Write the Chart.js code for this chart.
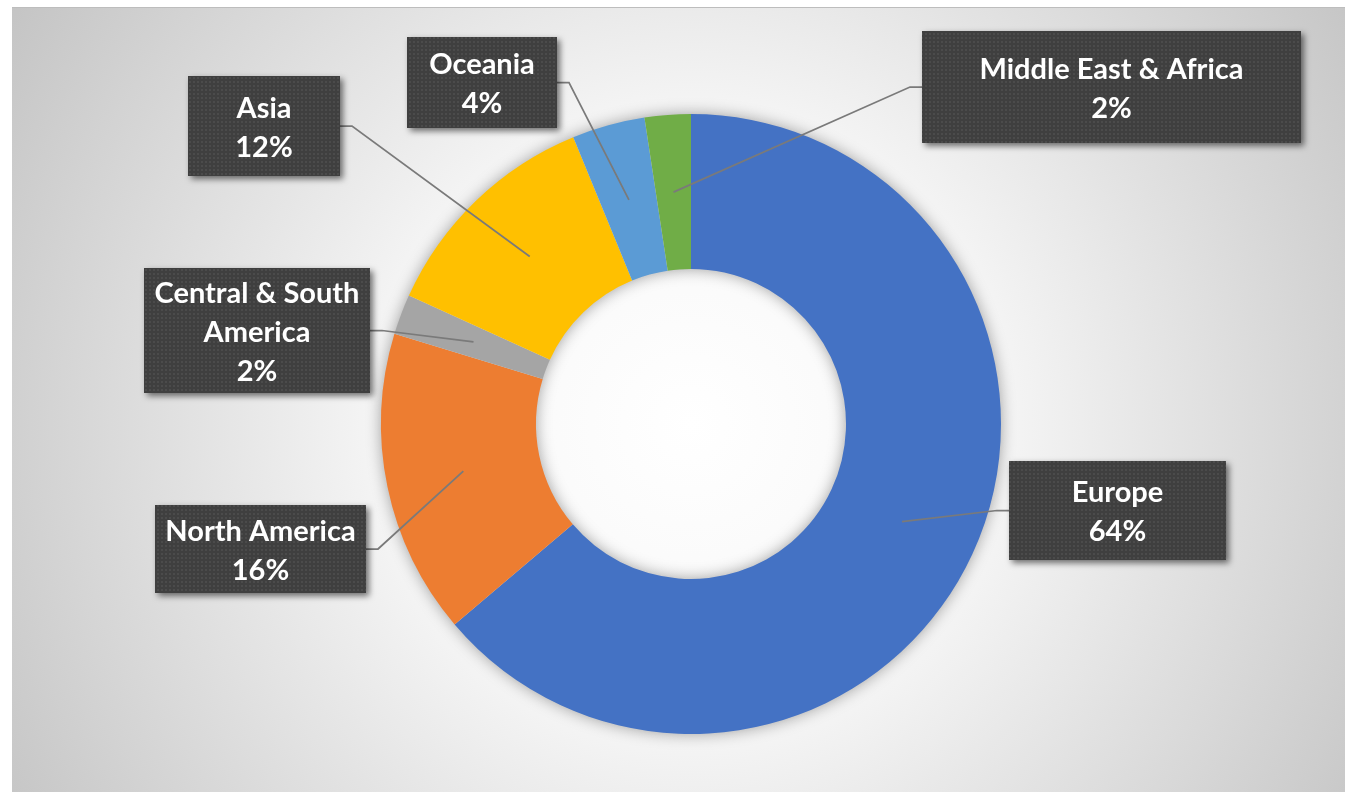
<!DOCTYPE html>
<html>
<head>
<meta charset="utf-8">
<script src="https://cdn.jsdelivr.net/npm/chart.js@4.4.1/dist/chart.umd.min.js"></script>
<style>
    html, body { margin: 0; padding: 0; background: #fff; }
    #frame {
        position: absolute; left: 12px; top: 7px; width: 1333px; height: 785px;
        border-top: 1px solid #bdbdbd;
        background: radial-gradient(circle at 679px 416px, #ffffff 0px, #f6f6f6 300px, #c4c4c4 800px);
    }
    #regionChart { position: absolute; left: 0; top: 0; }
</style>
</head>
<body>
<div id="frame"></div>
<canvas id="regionChart" width="1345" height="792"></canvas>
<script>
// regions clockwise from 12 o'clock
const regions = ['Europe', 'North America', ['Central & South', 'America'], 'Asia', 'Oceania', 'Middle East & Africa'];
const shares = [63.8, 15.9, 2.1, 12.0, 3.8, 2.4];
const sliceColors = ['#4472C4', '#ED7D31', '#A5A5A5', '#FFC000', '#5B9BD5', '#70AD47'];

// label boxes: [left, top, width, height]
const labelBoxes = [
    [1009, 461, 217, 99],
    [155, 505, 211, 88],
    [144, 268, 226, 125],
    [188, 76, 152, 100],
    [407, 37, 150, 91],
    [922, 31, 379, 112]
];

function makePattern(ctx) {
    const tile = document.createElement('canvas');
    tile.width = 4; tile.height = 4;
    const t = tile.getContext('2d');
    t.fillStyle = '#3f3f3f';
    t.fillRect(0, 0, 4, 4);
    t.fillStyle = '#4b4b4b';
    t.fillRect(1, 1, 2, 2);
    return ctx.createPattern(tile, 'repeat');
}

// soft shadow under the ring
const ringShadow = {
    id: 'ringShadow',
    beforeDatasetsDraw(chart) {
        const arc = chart.getDatasetMeta(0).data[0];
        if (!arc) return;
        const { x, y, innerRadius, outerRadius } = arc.getProps(['x', 'y', 'innerRadius', 'outerRadius'], true);
        const ctx = chart.ctx;
        ctx.save();
        ctx.shadowColor = 'rgba(0,0,0,0.4)';
        ctx.shadowBlur = 16;
        ctx.fillStyle = '#e0e0e0';
        ctx.beginPath();
        ctx.arc(x, y, outerRadius - 1, 0, Math.PI * 2);
        ctx.arc(x, y, innerRadius + 1, 0, Math.PI * 2, true);
        ctx.fill();
        ctx.restore();
    }
};

// callout boxes with leader lines
const callouts = {
    id: 'callouts',
    afterDatasetsDraw(chart) {
        const ctx = chart.ctx;
        const total = shares.reduce((a, b) => a + b, 0);
        const pattern = makePattern(ctx);
        chart.getDatasetMeta(0).data.forEach((arc, i) => {
            const p = arc.getProps(['x', 'y', 'startAngle', 'endAngle', 'innerRadius', 'outerRadius'], true);
            const mid = (p.startAngle + p.endAngle) / 2;
            const r = (p.innerRadius + p.outerRadius) / 2;
            const ax = p.x + Math.cos(mid) * r;
            const ay = p.y + Math.sin(mid) * r;
            const [bx, by, bw, bh] = labelBoxes[i];

            // leader line
            let sx, ex;
            if (ax > bx + bw) { sx = bx + bw; ex = sx + 12; }
            else { sx = bx; ex = sx - 12; }
            const sy = by + bh / 2;
            ctx.save();
            ctx.strokeStyle = '#7a7a7a';
            ctx.lineWidth = 1.75;
            ctx.beginPath();
            ctx.moveTo(sx, sy);
            ctx.lineTo(ex, sy);
            ctx.lineTo(ax, ay);
            ctx.stroke();
            ctx.restore();

            // box
            ctx.save();
            ctx.shadowColor = 'rgba(0,0,0,0.55)';
            ctx.shadowBlur = 6;
            ctx.shadowOffsetX = 3;
            ctx.shadowOffsetY = 3;
            ctx.fillStyle = pattern;
            ctx.fillRect(bx, by, bw, bh);
            ctx.restore();

            // text
            const name = regions[i];
            const lines = (Array.isArray(name) ? name.slice() : [name]);
            lines.push(Math.round(shares[i] / total * 100) + '%');
            const lh = 39;
            const top = by + bh / 2 - (lines.length - 1) * lh / 2 + 2;
            ctx.save();
            ctx.fillStyle = '#ffffff';
            ctx.font = 'bold 29px Lato';
            ctx.textAlign = 'center';
            ctx.textBaseline = 'middle';
            lines.forEach((line, k) => ctx.fillText(line, bx + bw / 2, top + k * lh));
            ctx.restore();
        });
    }
};

new Chart(document.getElementById('regionChart'), {
    type: 'doughnut',
    data: {
        labels: regions,
        datasets: [{
            data: shares,
            backgroundColor: sliceColors,
            borderWidth: 0
        }]
    },
    options: {
        responsive: false,
        animation: false,
        cutout: '50%',
        layout: { padding: { left: 37, right: 0, top: 114, bottom: 58 } },
        plugins: {
            legend: { display: false },
            tooltip: { enabled: false }
        }
    },
    plugins: [ringShadow, callouts]
});
</script>
</body>
</html>
